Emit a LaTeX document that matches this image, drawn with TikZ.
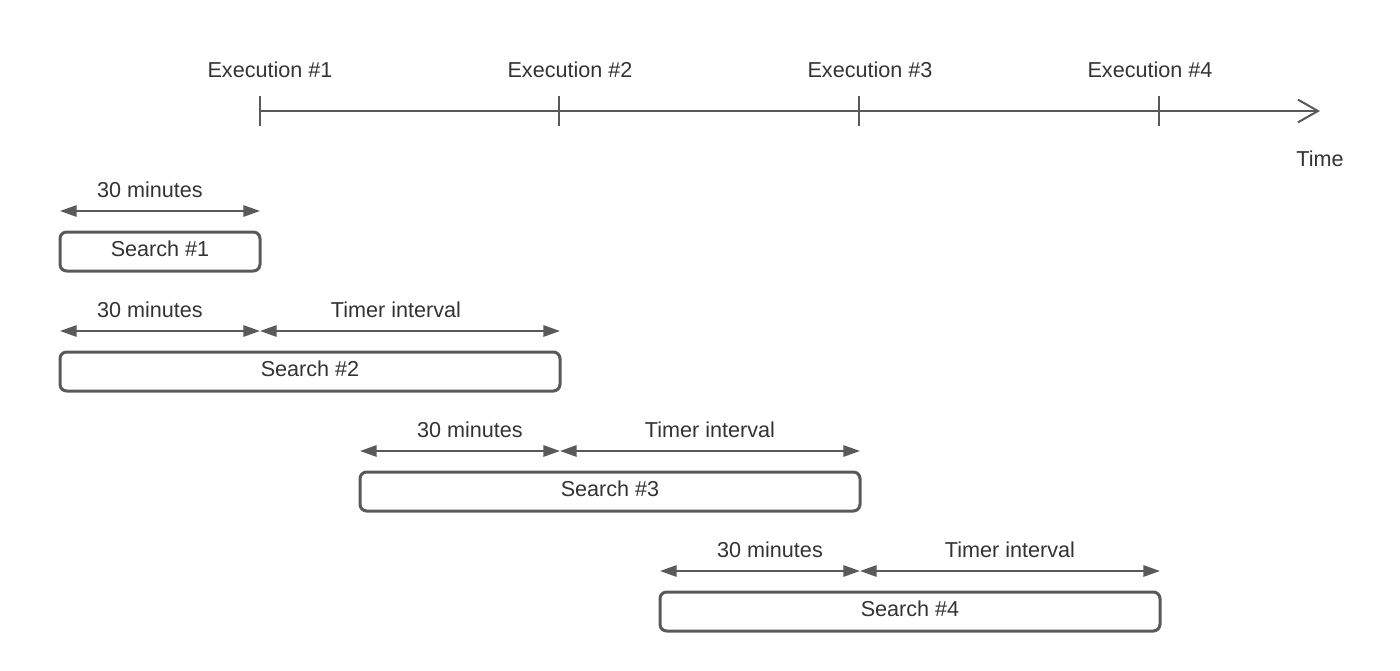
\documentclass[tikz,border=0pt]{standalone}
\usepackage{fontspec}
\setmainfont{Liberation Sans}
\usetikzlibrary{arrows.meta}
\definecolor{linegray}{HTML}{595959}
\definecolor{textgray}{HTML}{333333}
\tikzset{
  searchbox/.style={draw=linegray,line width=2.25pt,rounded corners=5pt,minimum height=29.25pt,inner sep=0pt,text height=11.6pt,text depth=3.5pt,text=textgray},
  spanarrow/.style={draw=linegray,line width=1.5pt,{Triangle[length=12.5pt,width=8.5pt]}-{Triangle[length=12.5pt,width=8.5pt]}},
  lbl/.style={anchor=base,inner sep=0pt,text=textgray},
  every node/.style={font=\fontsize{16.2}{19}\selectfont},
}

\begin{document}
\begin{tikzpicture}[x=0.75pt,y=-0.75pt]
\useasboundingbox (0,0) rectangle (1400,671);
% time axis
\coordinate (t1) at (260,111);
\coordinate (t2) at (559,111);
\coordinate (t3) at (859,111);
\coordinate (t4) at (1159,111);
\coordinate (tend) at (1320,111);
\draw [linegray,line width=1.5pt,-{Straight Barb[length=15pt,width=17pt]}] (t1)--(tend);
\foreach \t in {t1,t2,t3,t4}
  \draw [linegray,line width=1.5pt] ([yshift=11.25pt]\t)--([yshift=-11.25pt]\t);
\node [lbl] (e1) at (270,77) {Execution \#1};
\node [lbl] (e2) at (570,77) {Execution \#2};
\node [lbl] (e3) at (870,77) {Execution \#3};
\node [lbl] (e4) at (1150,77) {Execution \#4};
\node [lbl] (time) at (1320,166) {Time};
% searches
\node [searchbox,minimum width=150pt] (s1) at (160,251.5) {Search \#1};
\node [searchbox,minimum width=375pt] (s2) at (310,371.5) {Search \#2};
\node [searchbox,minimum width=375pt] (s3) at (610,491.5) {Search \#3};
\node [searchbox,minimum width=375pt] (s4) at (910,611.5) {Search \#4};
% spans
\coordinate (a1) at (60,211);  \coordinate (b1) at (260,211);
\coordinate (a2) at (60,331);  \coordinate (b2) at (260,331);  \coordinate (c2) at (560,331);
\coordinate (a3) at (360,451); \coordinate (b3) at (560,451);  \coordinate (c3) at (860,451);
\coordinate (a4) at (660,571); \coordinate (b4) at (860,571);  \coordinate (c4) at (1160,571);
\draw [spanarrow] (a1)--(b1);
\draw [spanarrow] (a2)--(b2);
\draw [spanarrow] (b2)--(c2);
\draw [spanarrow] (a3)--(b3);
\draw [spanarrow] (b3)--(c3);
\draw [spanarrow] (a4)--(b4);
\draw [spanarrow] (b4)--(c4);
\node [lbl] (m1) at (150,197) {30 minutes};
\node [lbl] (m2) at (150,317) {30 minutes};
\node [lbl] (i2) at (396,317) {Timer interval};
\node [lbl] (m3) at (470,437) {30 minutes};
\node [lbl] (i3) at (710,437) {Timer interval};
\node [lbl] (m4) at (770,557) {30 minutes};
\node [lbl] (i4) at (1010,557) {Timer interval};
\end{tikzpicture}
\end{document}
